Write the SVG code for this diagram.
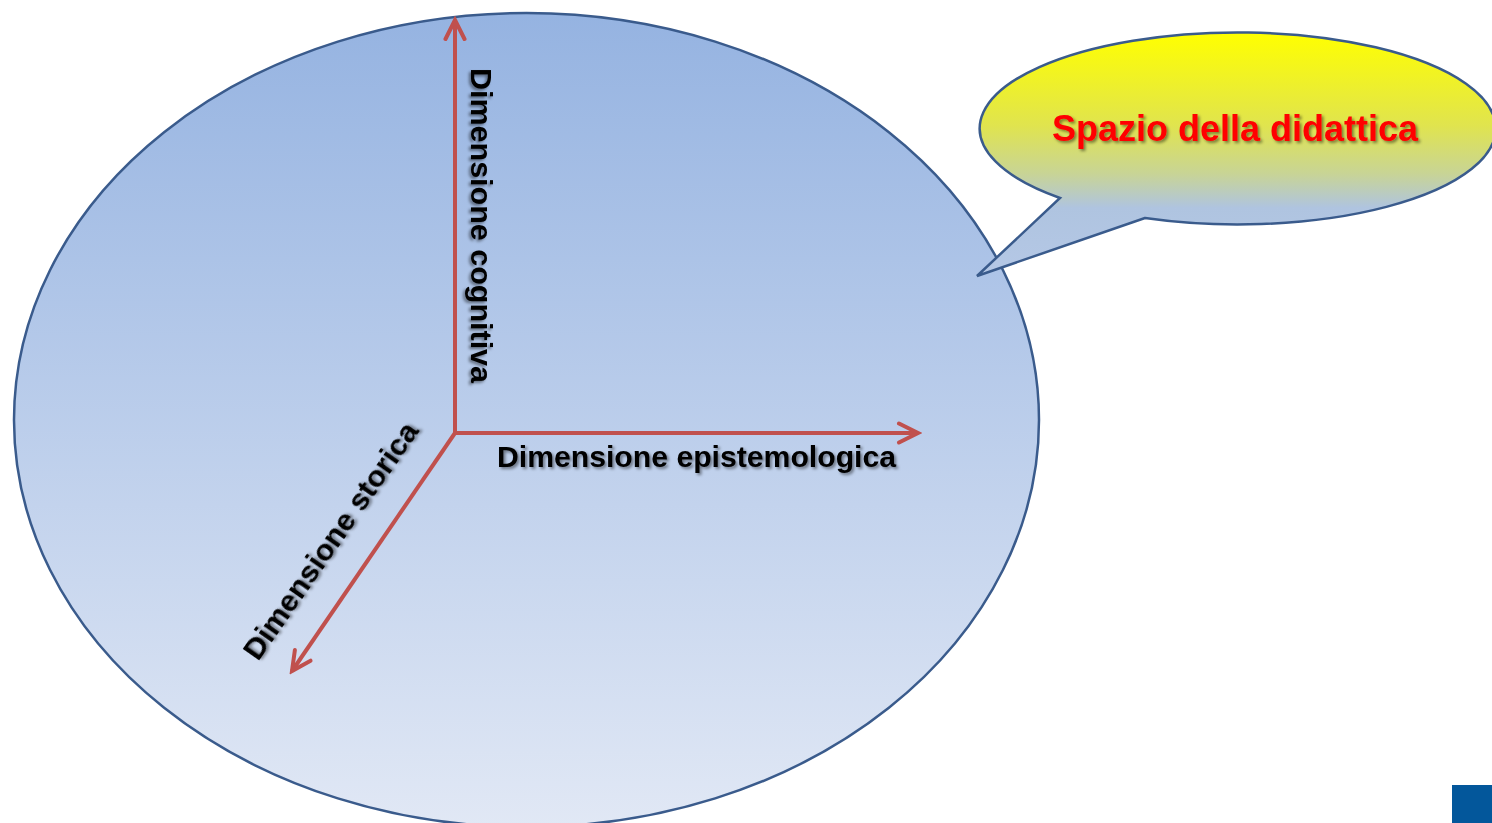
<svg xmlns="http://www.w3.org/2000/svg" width="1492" height="823" viewBox="0 0 1492 823">
  <defs>
    <linearGradient id="gMain" x1="0" y1="13" x2="0" y2="827" gradientUnits="userSpaceOnUse">
      <stop offset="0" stop-color="#95b3e1"/>
      <stop offset="1" stop-color="#e1e8f5"/>
    </linearGradient>
    <linearGradient id="gCall" x1="0" y1="33" x2="0" y2="276" gradientUnits="userSpaceOnUse">
      <stop offset="0" stop-color="#ffff00"/>
      <stop offset="0.38" stop-color="#e0e44e"/>
      <stop offset="0.58" stop-color="#c8d496"/>
      <stop offset="0.72" stop-color="#afc4e0"/>
      <stop offset="1" stop-color="#b5c8e6"/>
    </linearGradient>
    <filter id="shadow" x="-10%" y="-30%" width="120%" height="160%">
      <feDropShadow dx="2" dy="2" stdDeviation="1.4" flood-color="#000" flood-opacity="0.45"/>
    </filter>
    <marker id="arrow" viewBox="-22 -12 26 24" refX="0" refY="0" markerWidth="26" markerHeight="24" markerUnits="userSpaceOnUse" orient="auto">
      <path d="M-19,-9.5 L0,0 L-19,9.5" fill="none" stroke="#c0504d" stroke-width="4" stroke-linecap="round" stroke-linejoin="miter"/>
    </marker>
  </defs>
  <style>
    .axis { fill: none; stroke: #c0504d; stroke-width: 4; marker-end: url(#arrow); }
    .lbl { font-family: "Liberation Sans", Arial, sans-serif; font-weight: bold; font-size: 29px; fill: #000; filter: url(#shadow); }
    .title { font-family: "Liberation Sans", Arial, sans-serif; font-weight: bold; font-size: 36px; fill: #ff0000; filter: url(#shadow); }
  </style>
  <rect width="1492" height="823" fill="#ffffff"/>

  <g id="spazio-ellipse">
    <ellipse cx="526.5" cy="420" rx="512.5" ry="407" fill="url(#gMain)" stroke="#3a5b8c" stroke-width="2.5"/>
  </g>

  <g id="callout">
    <path d="M1145,218 L977,276 L1060,198 A258,96 0 1,1 1145,218 Z" fill="url(#gCall)" stroke="#3a5b8c" stroke-width="2.5" stroke-linejoin="miter"/>
    <text class="title" x="1052" y="141">Spazio della didattica</text>
  </g>

  <g id="connectors">
    <line class="axis" x1="455" y1="433" x2="455" y2="20"/>
    <line class="axis" x1="453" y1="433" x2="918" y2="433"/>
    <line class="axis" x1="455" y1="433" x2="292" y2="671"/>
  </g>

  <g id="label-cognitiva">
    <text class="lbl" transform="translate(471,68) rotate(90)" textLength="315" lengthAdjust="spacingAndGlyphs">Dimensione cognitiva</text>
  </g>
  <g id="label-epistemologica">
    <text class="lbl" x="497" y="467" textLength="399" lengthAdjust="spacingAndGlyphs">Dimensione epistemologica</text>
  </g>
  <g id="label-storica">
    <text class="lbl" transform="translate(258,662) rotate(-55)" textLength="282" lengthAdjust="spacingAndGlyphs">Dimensione storica</text>
  </g>

  <g id="corner-square">
    <rect x="1452" y="785" width="40" height="38" fill="#03579b"/>
  </g>
</svg>
